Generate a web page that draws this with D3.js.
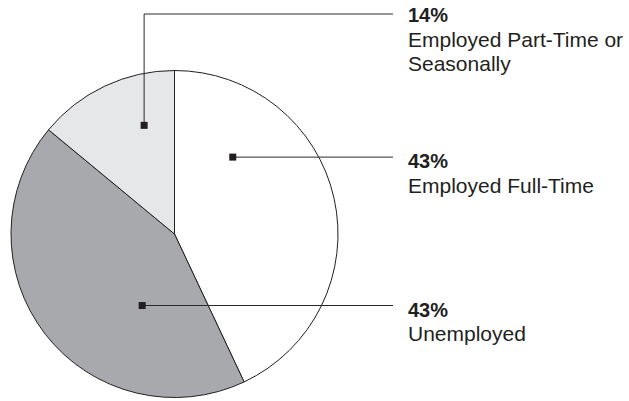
<!DOCTYPE html>
<html>
<head>
<meta charset="utf-8">
<script src="https://cdn.jsdelivr.net/npm/d3@7/dist/d3.min.js"></script>
<style>
  html, body { margin: 0; padding: 0; background: #fff; }
  svg { display: block; }
  text { font-family: "Liberation Sans", Arial, Helvetica, sans-serif; fill: #231f20; }
</style>
</head>
<body>
<svg id="chart" width="629" height="401"></svg>
<script>
// ---- data ----
const categories = ["Employed Full-Time", "Unemployed", "Employed Part-Time or Seasonally"];
const percents = [43, 43, 14];
const labelLines = [["Employed Full-Time"], ["Unemployed"], ["Employed Part-Time or", "Seasonally"]];
const fills = ["#ffffff", "#a7a9ac", "#e6e7e8"];

// ---- layout ----
const W = 629, H = 401;
const cx = 174.5, cy = 234, R = 163.5;
// marker anchor: fraction along slice angle, fraction of radius
const anchorAngleFrac = [0.24, 0.32, 0.69];
const anchorRadiusFrac = [0.59, 0.48, 0.69];
const leaderEndX = 393;
const textX = 408;
const partTimeLeaderY = 14;

const svg = d3.select("#chart");
const g = svg.append("g").attr("transform", `translate(${cx},${cy})`);

const data = categories.map((c, i) => ({ name: c, value: percents[i], idx: i }));
const pie = d3.pie().value(d => d.value).sort(null);
const arcs = pie(data);
const arc = d3.arc().innerRadius(0).outerRadius(R);

g.selectAll("path.slice")
  .data(arcs)
  .join("path")
  .attr("class", "slice")
  .attr("d", arc)
  .attr("fill", d => fills[d.data.idx])
  .attr("stroke", "#231f20")
  .attr("stroke-width", 1)
  .attr("stroke-linejoin", "round");

arcs.forEach((a, i) => {
  const ang = a.startAngle + (a.endAngle - a.startAngle) * anchorAngleFrac[i];
  const r = R * anchorRadiusFrac[i];
  const mx = cx + r * Math.sin(ang);
  const my = cy - r * Math.cos(ang);
  const lineY = (i === 2) ? partTimeLeaderY : my;

  let pts;
  if (i === 2) pts = [[mx, my], [mx, lineY], [leaderEndX, lineY]];
  else pts = [[mx, my], [leaderEndX, my]];
  svg.append("path")
    .attr("d", d3.line()(pts))
    .attr("fill", "none")
    .attr("stroke", "#2a2a2a")
    .attr("stroke-width", 1);

  svg.append("rect")
    .attr("x", mx - 3.5).attr("y", my - 3.5)
    .attr("width", 7).attr("height", 7)
    .attr("fill", "#231f20");

  const baseY = lineY + (i === 2 ? 8 : 11);
  const t = svg.append("text").attr("x", textX).attr("y", baseY);
  t.append("tspan")
    .attr("x", textX).attr("y", baseY)
    .attr("font-weight", "bold").attr("font-size", 20)
    .text(percents[i] + "%");
  labelLines[i].forEach((ln, k) => {
    t.append("tspan")
      .attr("x", textX).attr("y", baseY + 24.5 * (k + 1))
      .attr("font-size", 21)
      .text(ln);
  });
});
</script>
</body>
</html>
